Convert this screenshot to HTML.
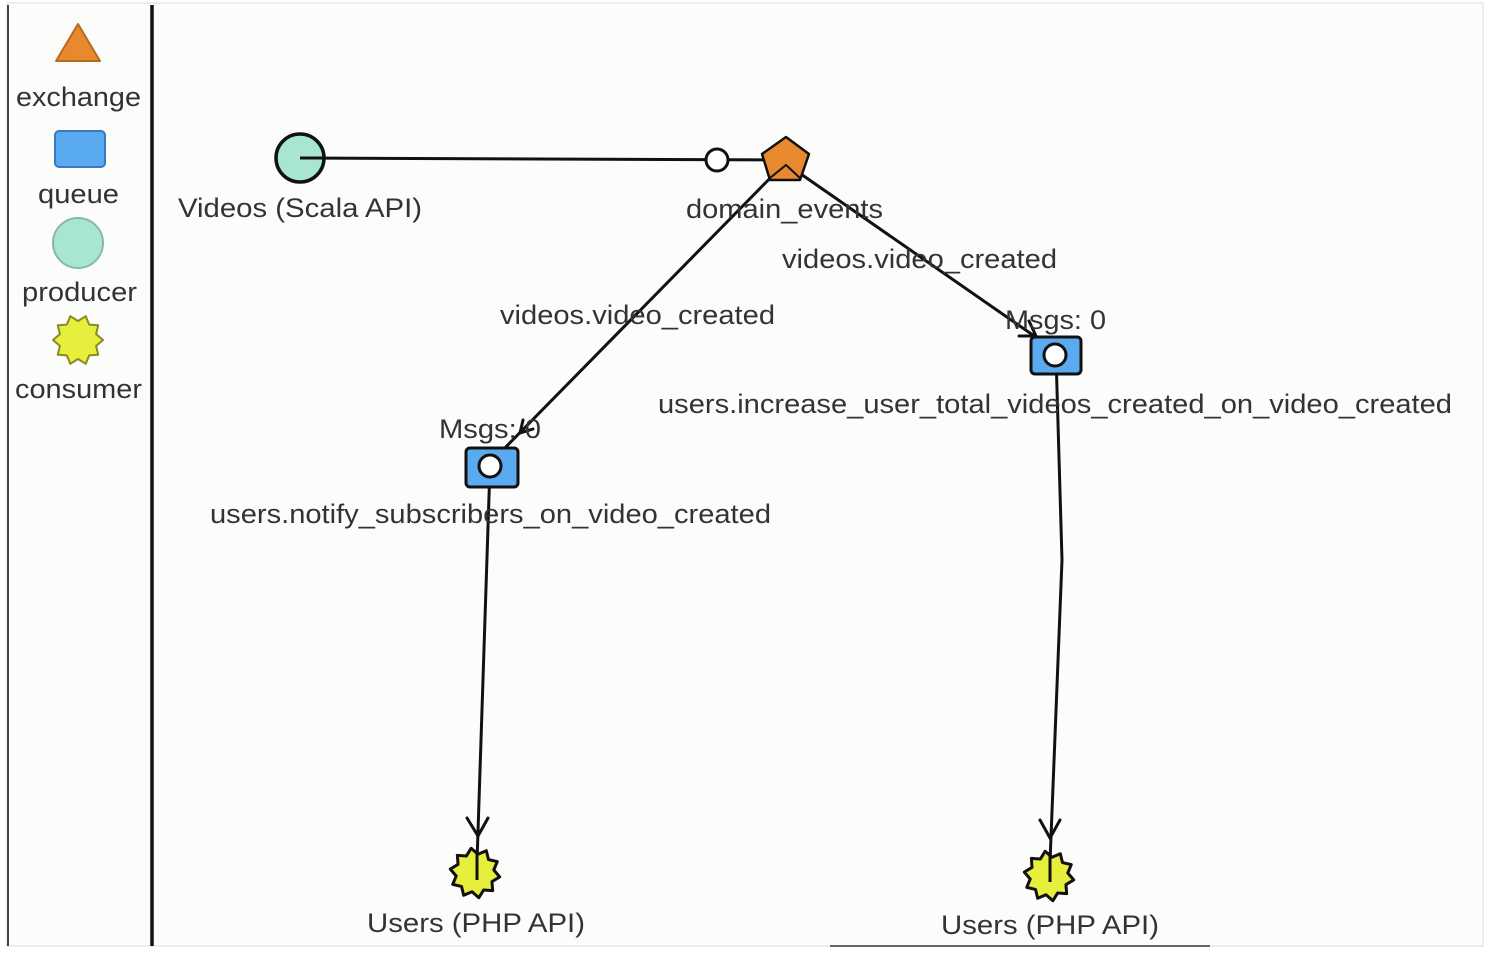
<!DOCTYPE html>
<html><head><meta charset="utf-8"><style>
html,body{margin:0;padding:0;background:#fff;}
svg{display:block;}
text{font-family:"Liberation Sans",sans-serif;font-size:27px;fill:#333;}
</style></head><body>
<svg width="1508" height="954" viewBox="0 0 1508 954" xmlns="http://www.w3.org/2000/svg">
<defs>
<polygon id="star" points="25,0 18.1,5.9 20.2,14.7 11.2,15.4 7.7,23.8 0,19 -7.7,23.8 -11.2,15.4 -20.2,14.7 -18.1,5.9 -25,0 -18.1,-5.9 -20.2,-14.7 -11.2,-15.4 -7.7,-23.8 0,-19 7.7,-23.8 11.2,-15.4 20.2,-14.7 18.1,-5.9"/>
</defs>
<rect x="7" y="3" width="1476" height="943" fill="#fcfdfb" stroke="#ddd" stroke-width="1"/>
<line x1="8" y1="5" x2="8" y2="946" stroke="#444" stroke-width="2"/>
<line x1="152" y1="5" x2="152" y2="946" stroke="#111" stroke-width="3.5"/>
<line x1="830" y1="946" x2="1210" y2="946" stroke="#666" stroke-width="2"/>

<!-- legend -->
<polygon points="78,24 100,61 56,61" fill="#e8892f" stroke="#b8691f" stroke-width="2" stroke-linejoin="round"/>
<text x="16" y="106" textLength="125" lengthAdjust="spacingAndGlyphs">exchange</text>
<rect x="55" y="131" width="50" height="36" rx="4" fill="#5aaaf0" stroke="#3a7ac0" stroke-width="2"/>
<text x="38" y="203" textLength="81" lengthAdjust="spacingAndGlyphs">queue</text>
<circle cx="78" cy="243" r="25" fill="#a8e6d2" stroke="#88b8a8" stroke-width="2"/>
<text x="22" y="301" textLength="115" lengthAdjust="spacingAndGlyphs">producer</text>
<use href="#star" transform="translate(78,340)" fill="#e6f03c" stroke="#8a8a20" stroke-width="2" stroke-linejoin="round"/>
<text x="15" y="398" textLength="127" lengthAdjust="spacingAndGlyphs">consumer</text>

<!-- edges -->
<g stroke="#111" stroke-width="3" fill="none" stroke-linecap="round">
<line x1="300" y1="158" x2="785" y2="160"/>
<line x1="785" y1="163" x2="495" y2="458"/>
<polyline points="533,429 520,433 523,420"/>
<line x1="785" y1="163" x2="1040" y2="340"/>
<polyline points="1029,321 1036,336 1019,336"/>
<line x1="490" y1="466" x2="477" y2="862"/>
<polyline points="467,818 478,836 488,818"/>
<polyline points="1056,355 1062,560 1050,862"/>
<polyline points="1040,820 1050,838 1060,820"/>
</g>

<!-- nodes -->
<circle cx="300" cy="158" r="24" fill="#a8e6d2" stroke="#111" stroke-width="3.5"/>
<line x1="300" y1="158" x2="324" y2="158" stroke="#111" stroke-width="3"/>
<circle cx="717" cy="160" r="11" fill="#fff" stroke="#111" stroke-width="3"/>
<polygon points="786,137 809,154 800,180 770,180 762,154" fill="#e8892f" stroke="#111" stroke-width="2.5" stroke-linejoin="round"/>
<polyline points="770,178 786,165 800,178" fill="none" stroke="#111" stroke-width="2"/>

<rect x="466" y="448" width="52" height="39" rx="4" fill="#5aaaf0" stroke="#111" stroke-width="3"/>
<circle cx="490" cy="466" r="11" fill="#fff" stroke="#111" stroke-width="3"/>
<rect x="1031" y="337" width="50" height="37" rx="4" fill="#5aaaf0" stroke="#111" stroke-width="3"/>
<circle cx="1055" cy="355" r="11" fill="#fff" stroke="#111" stroke-width="3"/>

<use href="#star" transform="translate(475,873) rotate(9)" fill="#e6f03c" stroke="#111" stroke-width="3" stroke-linejoin="round"/>
<line x1="477" y1="850" x2="477" y2="880" stroke="#111" stroke-width="3"/>
<use href="#star" transform="translate(1049,876) rotate(9)" fill="#e6f03c" stroke="#111" stroke-width="3" stroke-linejoin="round"/>
<line x1="1050" y1="852" x2="1050" y2="882" stroke="#111" stroke-width="3"/>

<!-- labels -->
<text x="178" y="217" textLength="244" lengthAdjust="spacingAndGlyphs">Videos (Scala API)</text>
<text x="686" y="218" textLength="197" lengthAdjust="spacingAndGlyphs">domain_events</text>
<text x="782" y="268" textLength="275" lengthAdjust="spacingAndGlyphs">videos.video_created</text>
<text x="500" y="324" textLength="275" lengthAdjust="spacingAndGlyphs">videos.video_created</text>
<text x="1005" y="329" textLength="101" lengthAdjust="spacingAndGlyphs">Msgs: 0</text>
<text x="439" y="438" textLength="102" lengthAdjust="spacingAndGlyphs">Msgs: 0</text>
<text x="658" y="413" textLength="794" lengthAdjust="spacingAndGlyphs">users.increase_user_total_videos_created_on_video_created</text>
<text x="210" y="523" textLength="561" lengthAdjust="spacingAndGlyphs">users.notify_subscribers_on_video_created</text>
<text x="367" y="932" textLength="218" lengthAdjust="spacingAndGlyphs">Users (PHP API)</text>
<text x="941" y="934" textLength="218" lengthAdjust="spacingAndGlyphs">Users (PHP API)</text>
</svg>
</body></html>
